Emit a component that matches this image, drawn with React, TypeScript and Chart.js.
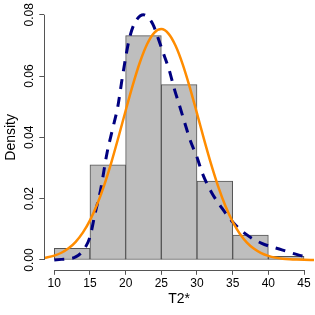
import React, { useEffect, useRef } from "react";
import { Chart, registerables } from "chart.js";

Chart.register(...registerables);

// Histogram bins (density)
const binCenters = [12.5, 17.5, 22.5, 27.5, 32.5, 37.5, 42.5];
const binDensity = [0.0038, 0.031, 0.0732, 0.0572, 0.0257, 0.0081, 0.0012];

// Fitted normal curve (orange)
const normalX = [8.6, 10, 11, 12, 13, 14, 15, 16, 17, 18, 19, 20, 21, 22, 23, 24, 25, 26, 27, 28, 29, 30, 31, 32, 33, 34, 35, 36, 37, 38, 39, 40, 41, 42, 43, 44, 45, 46.4];
const normalY = [0.00065, 0.00141, 0.00236, 0.0038, 0.00593, 0.00891, 0.01293, 0.0181, 0.02445, 0.03187, 0.04011, 0.04869, 0.05704, 0.06449, 0.07037, 0.0741, 0.0753, 0.07384, 0.06987, 0.06381, 0.05624, 0.04782, 0.03925, 0.03109, 0.02376, 0.01752, 0.01247, 0.00857, 0.00568, 0.00363, 0.00224, 0.00134, 0.00077, 0.00043, 0.00023, 0.00012, 0.00006, 0.00002];

// Kernel density (navy dashed)
const kdeX = [10, 11, 12, 13, 14, 15, 15.7, 16.5, 17.4, 18.2, 18.9, 19.5, 20, 20.5, 21.2, 22.5, 23.8, 24.3, 25.2, 26.1, 26.8, 27.6, 28.3, 29.1, 30, 30.8, 32.1, 33.5, 35, 36.8, 39, 41.9, 44.4, 45];
const kdeY = [0.0, 0.0002, 0.0004, 0.001, 0.003, 0.0075, 0.015, 0.023, 0.035, 0.043, 0.05, 0.059, 0.066, 0.072, 0.077, 0.08, 0.077, 0.074, 0.068, 0.062, 0.056, 0.05, 0.0446, 0.0387, 0.0335, 0.028, 0.0218, 0.0169, 0.0124, 0.0085, 0.0055, 0.0033, 0.0015, 0.0012];

const xTicks = [10, 15, 20, 25, 30, 35, 40, 45];
const yTicks = [0, 0.02, 0.04, 0.06, 0.08];
const xLabel = "T2*";
const yLabel = "Density";

const FONT = "'Liberation Sans', Arial, Helvetica, sans-serif";

export default function App() {
  const ref = useRef<HTMLCanvasElement | null>(null);
  useEffect(() => {
    if (!ref.current) return;
    const axisLines = {
      id: "axisLines",
      afterDraw(chart: any) {
        const { ctx, scales } = chart;
        const xs = scales.x;
        const ys = scales.y;
        ctx.save();
        ctx.strokeStyle = "#555";
        ctx.lineWidth = 1;
        const yb = Math.round(chart.chartArea.bottom) + 0.5;
        ctx.beginPath();
        ctx.moveTo(xs.getPixelForValue(xTicks[0]), yb);
        ctx.lineTo(xs.getPixelForValue(xTicks[xTicks.length - 1]), yb);
        ctx.stroke();
        const xl = Math.round(chart.chartArea.left) + 0.5;
        ctx.beginPath();
        ctx.moveTo(xl, ys.getPixelForValue(yTicks[0]));
        ctx.lineTo(xl, ys.getPixelForValue(yTicks[yTicks.length - 1]));
        ctx.stroke();
        ctx.restore();
      },
    };
    const chart = new Chart(ref.current, {
      type: "bar",
      data: {
        datasets: [
          {
            type: "line",
            data: normalX.map((x, i) => ({ x, y: normalY[i] })),
            borderColor: "#FF8C00",
            borderWidth: 2.5,
            pointRadius: 0,
            cubicInterpolationMode: "monotone",
            fill: false,
            order: 0,
          } as any,
          {
            type: "line",
            data: kdeX.map((x, i) => ({ x, y: kdeY[i] })),
            borderColor: "#000080",
            borderWidth: 3,
            borderDash: [10, 8],
            pointRadius: 0,
            cubicInterpolationMode: "monotone",
            fill: false,
            order: 1,
          } as any,
          {
            type: "bar",
            data: binCenters.map((x, i) => ({ x, y: binDensity[i] })),
            backgroundColor: "#BEBEBE",
            borderColor: "#555",
            borderWidth: 1,
            borderSkipped: false,
            barPercentage: 1,
            categoryPercentage: 1,
            order: 2,
          } as any,
        ],
      },
      options: {
        responsive: false,
        animation: false,
        devicePixelRatio: 1,
        layout: { padding: { left: 0, right: 1, top: 4.2, bottom: 0 } },
        plugins: { legend: { display: false }, tooltip: { enabled: false } },
        scales: {
          x: {
            type: "linear",
            min: 8.6,
            max: 46.4,
            offset: false,
            afterBuildTicks: (s: any) => {
              s.ticks = xTicks.map((v) => ({ value: v }));
            },
            afterFit: (s: any) => {
              s.height = 45.2;
            },
            grid: { drawOnChartArea: false, drawTicks: true, tickLength: 5, color: "#555", offset: false },
            border: { display: false },
            ticks: {
              color: "#000",
              font: { family: FONT, size: 12 },
              padding: 1.5,
              maxRotation: 0,
              autoSkip: false,
            },
            title: {
              display: true,
              text: xLabel,
              color: "#000",
              font: { family: FONT, size: 14 },
              padding: { top: 0, bottom: 7 },
            },
          },
          y: {
            type: "linear",
            min: -0.0032,
            max: 0.0832,
            afterBuildTicks: (s: any) => {
              s.ticks = yTicks.map((v) => ({ value: v }));
            },
            afterFit: (s: any) => {
              s.width = 44.3;
            },
            grid: { drawOnChartArea: false, drawTicks: true, tickLength: 5, color: "#555" },
            border: { display: false },
            ticks: {
              color: "#000",
              font: { family: FONT, size: 12 },
              padding: -2.3,
              minRotation: 90,
              maxRotation: 90,
              crossAlign: "center",
              autoSkip: false,
              callback: (v: any) => Number(v).toFixed(2),
            },
            title: {
              display: true,
              text: yLabel,
              color: "#000",
              font: { family: FONT, size: 14 },
              padding: { top: 3.1, bottom: 0 },
            },
          },
        },
      } as any,
      plugins: [axisLines],
    });
    return () => chart.destroy();
  }, []);
  return (
    <div style={{ position: "fixed", left: 0, top: 0, width: 315, height: 315, background: "#fff" }}>
      <canvas ref={ref} width={315} height={315} />
    </div>
  );
}
